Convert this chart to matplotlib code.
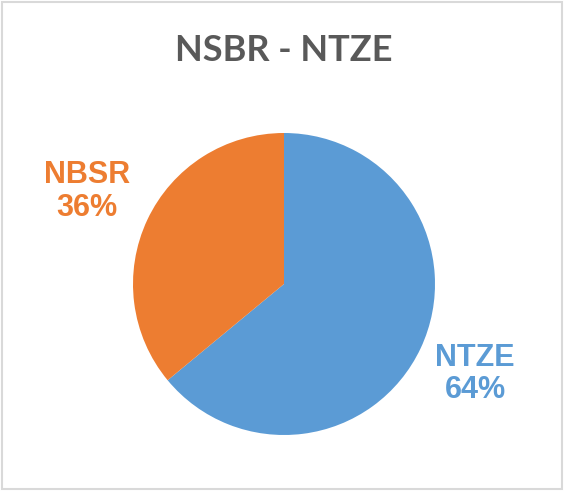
import numpy as np
import matplotlib.pyplot as plt
from matplotlib.patches import Rectangle

labels = ['NTZE', 'NBSR']
values = [64, 36]
colors = ['#5B9BD5', '#ED7D31']
title = 'NSBR - NTZE'

fig = plt.figure(figsize=(5.64, 4.91), dpi=100)
fig.patches.append(Rectangle((0.004, 0.004), 0.992, 0.992, transform=fig.transFigure,
                             fill=False, edgecolor='#d9d9d9', linewidth=1.5))

ax = fig.add_axes([(284 - 151) / 564, (207 - 151) / 491, 302 / 564, 302 / 491])

pct = [100 * v / sum(values) for v in values]
texts = [f'{l}\n{p:.0f}%' for l, p in zip(labels, pct)]

wedges, lbls = ax.pie(values, colors=colors, startangle=90, counterclock=False,
                      labels=texts, labeldistance=1.42, radius=1.0)
dists = [1.40, 1.44]  # label distance from centre, per slice
for w, t, c, d in zip(wedges, lbls, colors, dists):
    ang = np.deg2rad((w.theta1 + w.theta2) / 2)
    t.set_position((d * np.cos(ang), d * np.sin(ang)))
    t.set_color(c)
    t.set_ha('center')
    t.set_va('center')
    t.set_fontsize(22)
    t.set_fontweight('bold')
    t.set_family('Liberation Sans')
    t.set_linespacing(1.1)

ax.set_xlim(-1, 1)
ax.set_ylim(-1, 1)
ax.set_aspect('equal')

fig.text(0.5035, 1 - 50 / 491, title, ha='center', va='center', fontsize=26,
         fontweight='bold', color='#595959', family='Lato')

plt.savefig('out.png', dpi=100)
